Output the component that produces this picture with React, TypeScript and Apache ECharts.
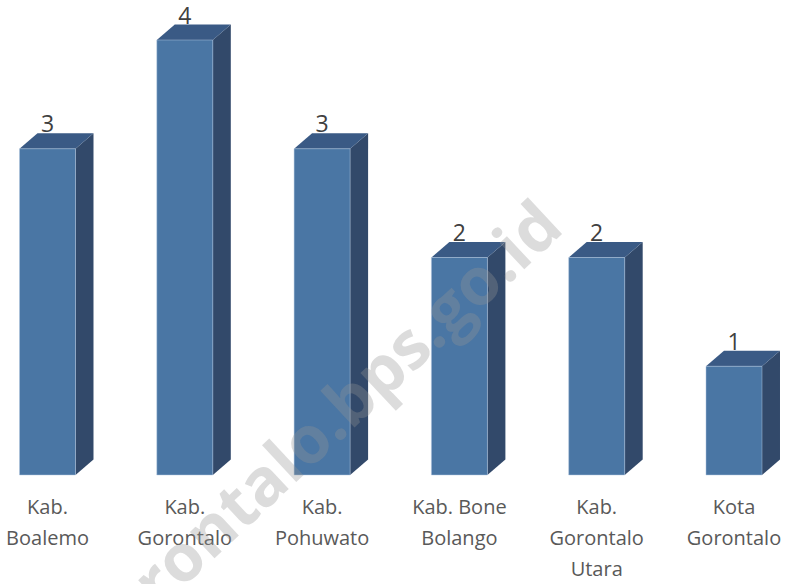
import React, { useEffect, useRef } from "react";
import * as echarts from "echarts";

const categories = [
  "Kab.\nBoalemo",
  "Kab.\nGorontalo",
  "Kab.\nPohuwato",
  "Kab. Bone\nBolango",
  "Kab.\nGorontalo\nUtara",
  "Kota\nGorontalo",
];
const values = [3, 4, 3, 2, 2, 1];
const watermarkText = "gorontalo.bps.go.id";

const FRONT = "#4a76a4";
const TOP = "#3a5a85";
const SIDE = "#32496a";

export default function App() {
  const ref = useRef<HTMLDivElement>(null);
  useEffect(() => {
    if (!ref.current) return;
    const chart = echarts.init(ref.current, undefined, { renderer: "svg" });
    const option: any = {
      animation: false,
      backgroundColor: "#ffffff",
      grid: { left: 47.5, right: 51, top: 40, bottom: 107, containLabel: false },
      xAxis: {
        type: "category",
        data: categories,
        boundaryGap: false,
        axisLine: { show: false },
        axisTick: { show: false },
        splitLine: { show: false },
        axisLabel: {
          interval: 0,
          margin: 16,
          fontFamily: "Open Sans",
          fontSize: 20,
          lineHeight: 31,
          color: "#595959",
          hideOverlap: false,
        },
      },
      yAxis: { type: "value", min: 0, max: 4, show: false },
      series: [
        {
          type: "custom",
          data: values.map((v, i) => [i, v]),
          encode: { x: 0, y: 1 },
          renderItem: (params: any, api: any) => {
            const idx = api.value(0);
            const val = api.value(1);
            const top = api.coord([idx, val]);
            const bot = api.coord([idx, 0]);
            const band = api.size([1, 0])[0];
            const w = band * 0.408;
            const dx = band * 0.131;
            const dy = band * 0.112;
            const x = top[0] - w / 2;
            const yt = top[1];
            const yb = bot[1];
            return {
              type: "group",
              children: [
                {
                  type: "polygon",
                  shape: {
                    points: [
                      [x + w, yt],
                      [x + w + dx, yt - dy],
                      [x + w + dx, yb - dy],
                      [x + w, yb],
                    ],
                  },
                  style: { fill: SIDE },
                },
                {
                  type: "polygon",
                  shape: {
                    points: [
                      [x, yt],
                      [x + dx, yt - dy],
                      [x + w + dx, yt - dy],
                      [x + w, yt],
                    ],
                  },
                  style: { fill: TOP },
                },
                {
                  type: "rect",
                  shape: { x: x, y: yt, width: w, height: yb - yt },
                  style: { fill: FRONT, stroke: "rgba(180,200,225,0.6)", lineWidth: 0.8 },
                },
                {
                  type: "text",
                  x: top[0],
                  y: yt - dy - 10,
                  style: {
                    text: String(val),
                    fontFamily: "Open Sans",
                    fontSize: 23,
                    fill: "#404040",
                    align: "center",
                    verticalAlign: "middle",
                  },
                },
              ],
            };
          },
        },
      ],
      graphic: [
        {
          type: "text",
          x: 316,
          y: 428,
          rotation: (43 * Math.PI) / 180,
          z: 100,
          silent: true,
          style: {
            text: watermarkText,
            fontFamily: "Open Sans",
            fontWeight: "bold",
            fontSize: 66,
            fill: "rgba(150,150,150,0.33)",
            align: "center",
            verticalAlign: "middle",
          },
        },
      ],
    };
    chart.setOption(option);
    return () => chart.dispose();
  }, []);
  return (
    <div
      ref={ref}
      style={{ position: "fixed", left: 0, top: 0, width: 785, height: 584, background: "#fff" }}
    />
  );
}
